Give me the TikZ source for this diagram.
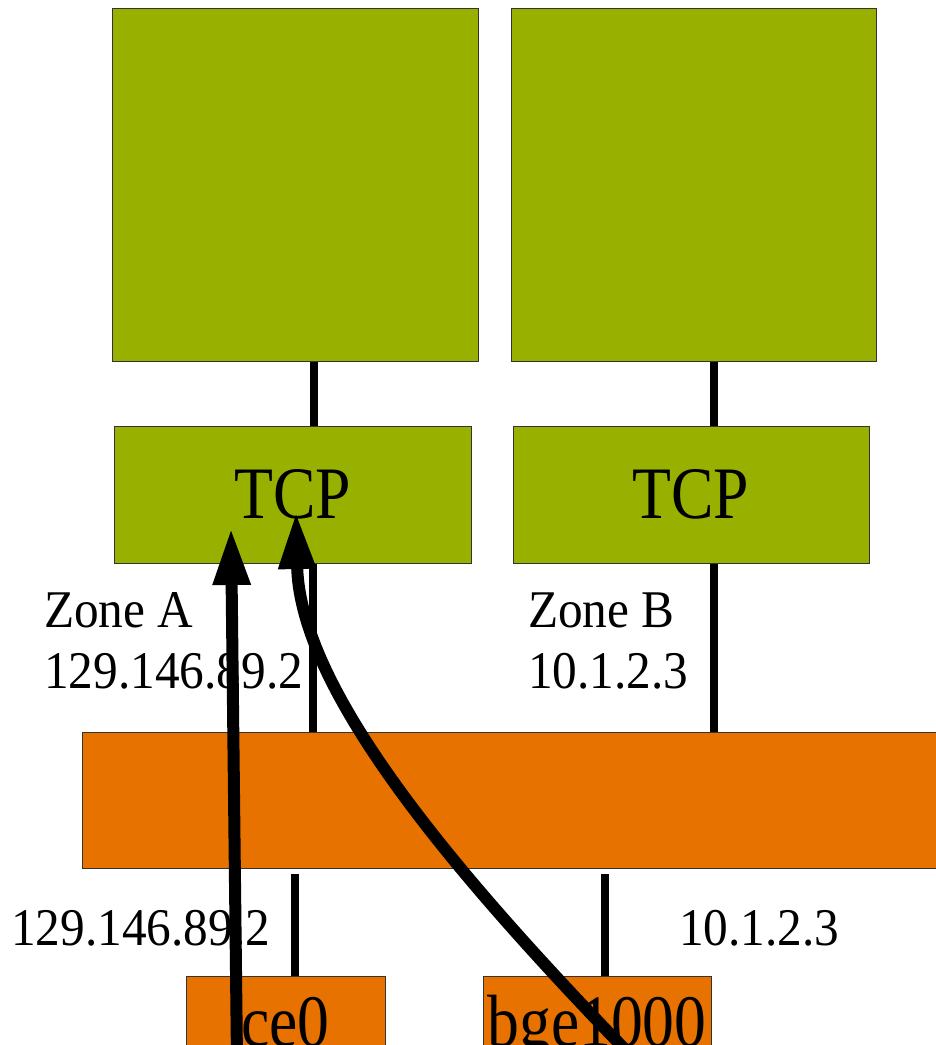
\documentclass[tikz,border=0pt]{standalone}
\usepackage{fontspec}
\setmainfont{Liberation Serif}
\newfontfamily\bigfont[FakeStretch=0.86]{Liberation Serif}
\newfontfamily\labfont[FakeStretch=0.93]{Liberation Serif}
\usetikzlibrary{arrows.meta}
\definecolor{appgreen}{RGB}{152,177,0}
\definecolor{netorange}{RGB}{232,114,0}

\begin{document}
\begin{tikzpicture}[x=1pt, y=-1pt,
  box/.style={draw=black!80, line width=1pt, inner sep=0pt},
  app/.style={box, fill=appgreen},
  net/.style={box, fill=netorange},
  link/.style={line width=8pt},
  flow/.style={line width=12pt, -{Triangle[length=57pt, width=35pt]}},
  big/.style={font=\bigfont\fontsize{74}{74}\selectfont},
  lab/.style={font=\labfont\fontsize{53}{61}\selectfont, anchor=base west, inner sep=0pt}]
  \clip (0, 0) rectangle (936, 1045);
  \node[app, minimum width=366pt, minimum height=353pt] (appA) at (295, 184.5) {};
  \node[app, minimum width=365pt, minimum height=353pt] (appB) at (693.5, 184.5) {};
  \node[app, big, minimum width=357pt, minimum height=137pt] (tcpA) at (292.5, 494.5) {TCP};
  \node[app, big, minimum width=356pt, minimum height=137pt] (tcpB) at (691, 494.5) {TCP};
  \node[net, minimum width=878pt, minimum height=136pt] (ip) at (521, 800) {};
  \node[net, big, minimum width=199pt, text height=70pt, text depth=70pt, anchor=north] (ce0) at (285.5, 976) {ce0};
  \node[net, big, minimum width=228pt, text height=70pt, text depth=70pt, anchor=north] (bge) at (597, 976) {bge1000};

  \draw[link] ([xshift=19pt]appA.south) -- ([xshift=19pt]appA.south |- tcpA.north);
  \draw[link] ([xshift=20.5pt]appB.south) -- ([xshift=20.5pt]appB.south |- tcpB.north);
  \draw[link] ([xshift=20pt]tcpA.south) -- ([xshift=20pt]tcpA.south |- ip.north);
  \draw[link] ([xshift=23pt]tcpB.south) -- ([xshift=23pt]tcpB.south |- ip.north);
  \draw[link] ([xshift=9.5pt]ce0.north) -- ([xshift=9.5pt, yshift=-5pt]ce0.north |- ip.south);
  \draw[link] ([xshift=8pt]bge.north) -- ([xshift=8pt, yshift=-5pt]bge.north |- ip.south);

  \node[lab] (zoneA) at (44, 627) {Zone A};
  \node[lab] (zoneAip) at (44, 688) {129.146.89.2};
  \node[lab] (zoneB) at (528, 627) {Zone B};
  \node[lab] (zoneBip) at (528, 688) {10.1.2.3};
  \node[lab] (ceip) at (11, 945) {129.146.89.2};
  \node[lab] (bgeip) at (679, 945) {10.1.2.3};

  \coordinate (ceTail) at (237, 1060);
  \coordinate (tcpTipA) at (231, 528);
  \coordinate (bgeTail) at (640, 1065);
  \coordinate (tcpTipB) at (296, 512);
  \draw[flow] (ceTail) -- (tcpTipA);
  \draw[flow] (bgeTail) .. controls (480, 900) and (300, 700) .. (tcpTipB);
\end{tikzpicture}
\end{document}
